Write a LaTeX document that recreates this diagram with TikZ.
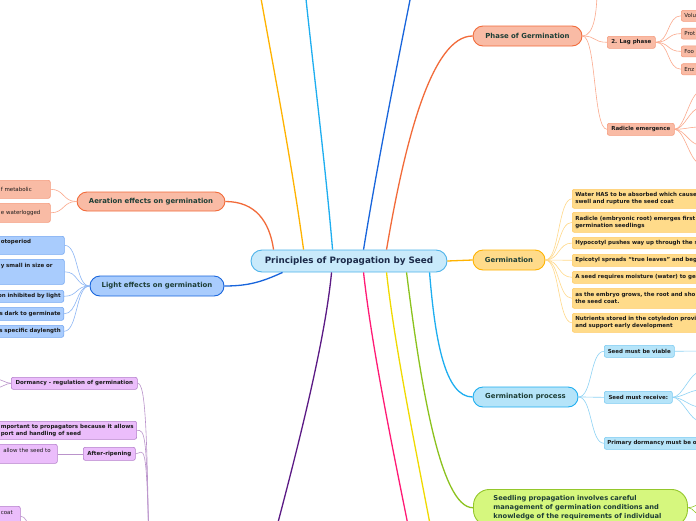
\documentclass[tikz,border=0pt]{standalone}
\usepackage{fontspec}
\setmainfont{DejaVu Sans}
\definecolor{seedRootFill}{HTML}{C9EAFB}
\definecolor{seedRootLine}{HTML}{4DB3EA}
\definecolor{seedNavy}{HTML}{1C2B4A}
\definecolor{seedTeal}{HTML}{1D3E36}
\definecolor{seedInk}{HTML}{1A1A1A}
\definecolor{seedTerra}{HTML}{F26B3A}
\definecolor{seedTerraFill}{HTML}{F9BBA5}
\definecolor{seedTerraLine}{HTML}{F59B7D}
\definecolor{seedTerraTwig}{HTML}{FBAA8E}
\definecolor{seedBlue}{HTML}{1865DC}
\definecolor{seedBlueFill}{HTML}{A9CCFD}
\definecolor{seedBlueLine}{HTML}{76A8F2}
\definecolor{seedBlueTwig}{HTML}{8DB6F5}
\definecolor{seedAmber}{HTML}{FFB300}
\definecolor{seedAmberFill}{HTML}{FFDB8A}
\definecolor{seedAmberLine}{HTML}{FFCB66}
\definecolor{seedAmberTwig}{HTML}{FFD98A}
\definecolor{seedCyan}{HTML}{1EAEF0}
\definecolor{seedCyanFill}{HTML}{B5E4F9}
\definecolor{seedCyanLine}{HTML}{7CCBF2}
\definecolor{seedCyanTwig}{HTML}{8ED3F5}
\definecolor{seedLime}{HTML}{8CC21E}
\definecolor{seedLimeFill}{HTML}{D6F77E}
\definecolor{seedLimeLine}{HTML}{94C72B}
\definecolor{seedLemon}{HTML}{F0DA00}
\definecolor{seedRose}{HTML}{FF1A75}
\definecolor{seedPlum}{HTML}{5B1A85}
\definecolor{seedPlumFill}{HTML}{EBBDFB}
\definecolor{seedPlumLine}{HTML}{B57FCB}
\definecolor{seedPlumTwig}{HTML}{BA93CB}
\usetikzlibrary{positioning}

\begin{document}
\begin{tikzpicture}[
    x=1pt, y=-1pt,
    root/.style={
      rounded corners=11pt,
      draw=seedRootLine,
      fill=seedRootFill,
      text=seedNavy,
      minimum width=196pt,
      minimum height=22pt,
      inner sep=0pt,
      font=\fontsize{8.8}{10}\selectfont\bfseries,
      line width=0.9pt,
    },
    topic/.style={
      rounded corners=10pt,
      minimum height=20pt,
      inner sep=0pt,
      text=seedTeal,
      font=\fontsize{6.9}{8}\selectfont\bfseries,
      line width=0.9pt,
    },
    leaf/.style={
      rounded corners=2pt,
      anchor=north west,
      inner xsep=3pt,
      inner ysep=0pt,
      text=seedInk,
      font=\fontsize{5.5}{6.8}\selectfont\bfseries,
      line width=0.6pt,
    },
    plain/.style={font=\fontsize{5.5}{6.8}\selectfont},
    terra/.style={leaf, draw=seedTerraLine, fill=seedTerraFill},
    bluish/.style={leaf, draw=seedBlueLine, fill=seedBlueFill},
    amber/.style={leaf, draw=seedAmberLine, fill=seedAmberFill},
    cyan/.style={leaf, draw=seedCyanLine, fill=seedCyanFill},
    plum/.style={leaf, draw=seedPlumLine, fill=seedPlumFill},
    limb/.style={line width=1.3pt},
    twig/.style={line width=0.6pt},
  ]
    \path[use as bounding box, fill=white] (0,0) rectangle (696,520);
    \clip (0,0) rectangle (696,520);

    % central topic
    \node[root] (root) at (349,261) {Principles of Propagation by Seed};

    % main topics
    \node[topic, draw=seedTerra, fill=seedTerraFill, minimum width=148pt, minimum height=19pt] (aer) at (151,201.5) {Aeration effects on germination};
    \node[topic, draw=seedBlue, fill=seedBlueFill, minimum width=134pt] (light) at (157,286) {Light effects on germination};
    \node[topic, draw=seedTerra, fill=seedTerraFill, minimum width=109pt] (phase) at (527.5,36) {Phase of Germination};
    \node[topic, draw=seedAmber, fill=seedAmberFill, minimum width=72pt] (germ) at (509,260) {Germination};
    \node[topic, draw=seedCyan, fill=seedCyanFill, minimum width=105pt] (gproc) at (525.5,397) {Germination process};
    \node[topic, draw=seedLimeLine, fill=seedLimeFill, anchor=north west, align=left, text width=174pt,
          inner xsep=20pt, inner ysep=6pt, rounded corners=16pt, font=\fontsize{6.7}{9}\selectfont\bfseries] (seed) at (473,489)
      {Seedling propagation involves careful\\management of germination conditions and\\knowledge of the requirements of individual};

    % off-page ends
    \coordinate (upA) at (256,-30);
    \coordinate (upB) at (303,-30);
    \coordinate (upC) at (416,-30);
    \coordinate (dnA) at (434,545);
    \coordinate (dnB) at (412,545);
    \coordinate (dnC) at (272,545);

    % main limbs
    \draw[limb, seedTerra] ([xshift=23pt]root.north west) .. controls +(-4,-28) and +(30,0) .. (aer.east);
    \draw[limb, seedBlue] ([xshift=32pt]root.south west) .. controls +(-20,9) and +(25,0) .. (light.east);
    \draw[limb, seedAmber] ([xshift=53pt]root.north west) .. controls (290,150) and (268,40) .. (upA);
    \draw[limb, seedCyan] ([xshift=82pt]root.north west) .. controls (325,160) and (312,60) .. (upB);
    \draw[limb, seedBlue] ([xshift=113pt]root.north west) .. controls (378,160) and (398,60) .. (upC);
    \draw[limb, seedTerra] ([xshift=136pt]root.north west) .. controls (405,140) and (432,36) .. (phase.west);
    \draw[limb, seedAmber] (root.east) -- (germ.west);
    \draw[limb, seedCyan] ([xshift=179pt]root.south west) .. controls (435,340) and (445,397) .. (gproc.west);
    \draw[limb, seedLime] ([xshift=156pt]root.south west) .. controls (420,380) and (440,508) .. (seed.west);
    \draw[limb, seedLemon] ([xshift=136pt]root.south west) .. controls (395,350) and (418,460) .. (dnA);
    \draw[limb, seedRose] ([xshift=113pt]root.south west) .. controls (372,350) and (395,460) .. (dnB);
    \draw[limb, seedPlum] ([xshift=81pt]root.south west) .. controls (325,340) and (300,440) .. (dnC);

    % aeration leaves
    \node[terra, plain, text width=46.5pt, align=left, minimum height=18pt] (a1) at (-2.5,180) {f metabolic};
    \node[terra, plain, text width=46.5pt, align=left, minimum height=19pt] (a2) at (-2.5,203) {e waterlogged};
    \foreach \n in {a1,a2}
      \draw[twig, seedTerraTwig] (aer.west) .. controls +(-14,0) and +(14,0) .. (\n.east);

    % light leaves
    \node[bluish, text width=60.5pt, align=left, minimum height=18pt] (l1) at (-2.5,236) {otoperiod\\\mbox{}};
    \node[bluish, text width=60.5pt, align=left, minimum height=25pt] (l2) at (-2.5,259) {y small in size or\\\mbox{}\\\mbox{}};
    \node[bluish, anchor=north east, text width=80pt, align=right, minimum height=12pt] (l3) at (64,290) {on inhibited by light};
    \node[bluish, anchor=north east, text width=80pt, align=right, minimum height=13pt] (l4) at (64,307) {s dark to germinate};
    \node[bluish, anchor=north east, text width=80pt, align=right, minimum height=12pt] (l5) at (64,325) {s specific daylength};
    \foreach \n in {l1,l2,l3,l4,l5}
      \draw[twig, seedBlueTwig] (light.west) .. controls +(-14,0) and +(14,0) .. (\n.east);

    % phase leaves
    \coordinate (phUp) at (597,-10);
    \node[terra, minimum width=48pt, minimum height=12pt] (lag) at (607,36) {2. Lag phase};
    \node[terra, minimum width=67pt, minimum height=12pt] (rad) at (607,123) {Radicle emergence};
    \draw[twig, seedTerraTwig] (phase.east) .. controls +(12,0) and +(0,20) .. (phUp);
    \foreach \n in {lag,rad}
      \draw[twig, seedTerraTwig] (phase.east) .. controls +(14,0) and +(-14,0) .. (\n.west);
    \foreach \t [count=\i] in {Volu,Prot,Foo,Enz} {
      \node[terra, plain, text width=30pt, align=left, minimum height=11pt] (v\i) at (681,{10+17.8*(\i-1)}) {\t};
      \draw[twig, seedTerraTwig] (lag.east) .. controls +(14,0) and +(-14,0) .. (v\i.west);
    }
    \foreach \y [count=\i] in {92,108,127,145,163} {
      \coordinate (r\i) at (700,\y);
      \draw[twig, seedTerraTwig] (rad.east) .. controls +(10,0) and +(-10,0) .. (r\i);
    }

    % germination leaves
    \node[amber, text width=150pt, align=left, minimum height=19pt] (g1) at (572,189) {Water HAS to be absorbed which cause\\swell and rupture the seed coat};
    \node[amber, text width=150pt, align=left, minimum height=20pt] (g2) at (572,212) {Radicle (embryonic root) emerges first\\germination seedlings};
    \node[amber, text width=150pt, align=left, minimum height=11.5pt] (g3) at (572,237) {Hypocotyl pushes way up through the s};
    \node[amber, text width=150pt, align=left, minimum height=12pt] (g4) at (572,254) {Epicotyl spreads “true leaves” and beg};
    \node[amber, text width=150pt, align=left, minimum height=12pt] (g5) at (572,271) {A seed requires moisture (water) to ge};
    \node[amber, text width=150pt, align=left, minimum height=20pt] (g6) at (572,288) {as the embryo grows, the root and sho\\the seed coat.};
    \node[amber, text width=150pt, align=left, minimum height=19pt] (g7) at (572,313) {Nutrients stored in the cotyledon provi\\and support early development};
    \foreach \n in {g1,g2,g3,g4,g5,g6,g7}
      \draw[twig, seedAmberTwig] (germ.east) .. controls +(14,0) and +(-14,0) .. (\n.west);

    % germination process leaves
    \node[cyan, minimum width=70pt, minimum height=12pt] (gp1) at (604,345) {Seed must be viable};
    \node[cyan, minimum width=68pt, minimum height=12pt] (gp2) at (604,391) {Seed must receive:};
    \node[cyan, text width=120pt, align=left, minimum height=12pt] (gp3) at (604,437) {Primary dormancy must be o};
    \foreach \n in {gp1,gp2,gp3}
      \draw[twig, seedCyanTwig] (gproc.east) .. controls +(14,0) and +(-14,0) .. (\n.west);
    \coordinate (via) at (700,351);
    \draw[twig, seedCyanTwig] (gp1.east) -- (via);
    \foreach \y [count=\i] in {372,390,407,421} {
      \coordinate (c\i) at (700,\y);
      \draw[twig, seedCyanTwig] (gp2.east) .. controls +(10,0) and +(-10,0) .. (c\i);
    }

    % seedling
    \coordinate (sdA) at (702,504);
    \coordinate (sdB) at (702,516);
    \foreach \n in {sdA,sdB}
      \draw[twig, seedLimeLine] (seed.east) .. controls +(6,0) and +(-6,0) .. (\n);

    % dormancy leaves
    \node[plum, minimum width=126pt, minimum height=12pt] (p1) at (11,377) {Dormancy - regulation of germination};
    \node[plum, align=left, minimum height=18pt] (p2) at (-2.5,421) {mportant to propagators because it allows\\port and handling of seed};
    \node[plum, minimum width=52pt, minimum height=13pt] (p3) at (83,447) {After-ripening};
    \node[plum, plain, text width=57pt, align=left, minimum height=19pt] (p4) at (-6,444) {\hspace*{6pt}allow the seed to\\\mbox{}};
    \node[plum, plain, text width=16.5pt, align=left, minimum height=20pt] (p5) at (-2.5,506) {coat\\\mbox{}};
    \coordinate (dormP) at (149,560);
    \coordinate (dormL1) at (-4,379);
    \coordinate (dormL2) at (-4,388);
    \coordinate (coatR) at (30,530);
    \foreach \n in {p1,p2,p3}
      \draw[twig, seedPlumTwig] (\n.east) .. controls +(8,0) and +(-2,-130) .. (dormP);
    \foreach \n in {dormL1,dormL2}
      \draw[twig, seedPlumTwig] (p1.west) .. controls +(-5,0) and +(5,0) .. (\n);
    \draw[twig, seedPlumTwig] (p4.east) -- (p3.west);
    \draw[twig, seedPlumTwig] (p5.east) .. controls +(5,0) and +(-3,-8) .. (coatR);
  \end{tikzpicture}
\end{document}
